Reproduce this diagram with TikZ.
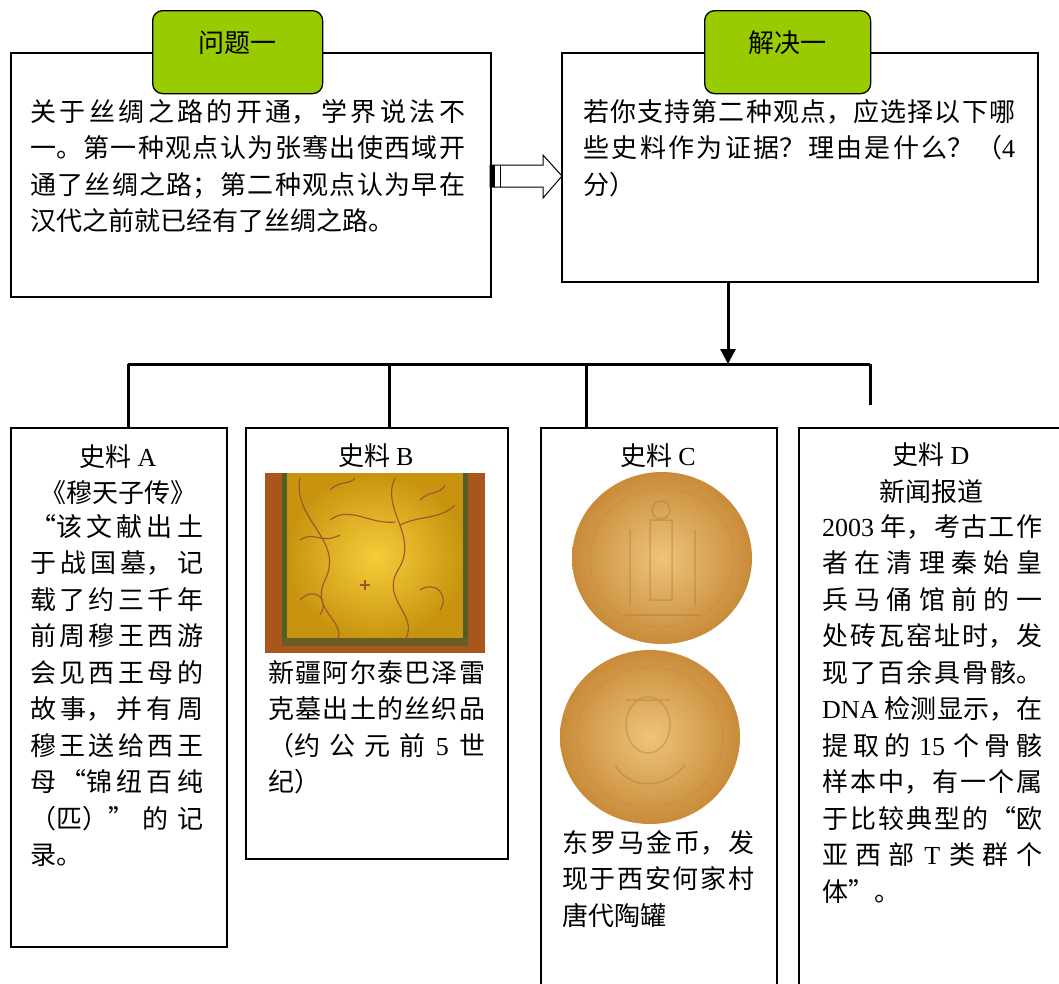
\documentclass[tikz,border=0pt]{standalone}
\usepackage{fontspec}
\setmainfont{Noto Sans CJK SC}
\newfontfamily\latin{Liberation Serif}
\usetikzlibrary{arrows.meta,calc}
\XeTeXlinebreaklocale "zh"
\XeTeXlinebreakskip=0pt plus 6pt minus 1pt
\newcommand\lat[1]{{\latin #1}}
\definecolor{tabgreen}{HTML}{99CC00}
\definecolor{silkgold}{HTML}{F5CD3A}
\definecolor{silkdark}{HTML}{C8940F}
\definecolor{silkedge}{HTML}{A9561C}
\definecolor{silkgreen}{HTML}{4F5F28}
\definecolor{vine}{HTML}{A0522D}
\definecolor{coinlight}{HTML}{EDC47A}
\definecolor{coindark}{HTML}{C98B3A}
\tikzset{
  box/.style={draw, line width=1.6pt, inner sep=0pt, anchor=north west},
  tab/.style={draw, line width=1.3pt, fill=tabgreen, rounded corners=10pt,
    inner sep=0pt, anchor=north west, minimum height=83pt},
  head/.style={inner sep=0pt, align=center, font=\fontsize{26}{36.5}\selectfont},
  body/.style={inner sep=0pt, anchor=north west, align=justify,
    font=\fontsize{26}{36.5}\selectfont},
  link/.style={line width=3pt},
  vine/.style={draw=vine, line width=1.1pt}
}
\begin{document}
\begin{tikzpicture}[x=1pt,y=-1pt]
  \useasboundingbox (0,0) rectangle (1059,983);

  % question and task
  \node[box, minimum width=480pt, minimum height=244pt] (q1) at (10,52) {};
  \node[box, minimum width=476pt, minimum height=229pt] (s1) at (561,52) {};
  \node[tab, minimum width=170pt, label={[head, yshift=9.5pt]center:问题一}] (tq) at (152,10) {};
  \node[tab, minimum width=166pt, label={[head, yshift=9.5pt]center:解决一}] (ts) at (704,10) {};
  \node[body, text width=435pt] (q1txt) at (30,99)
    {关于丝绸之路的开通，学界说法不\linebreak 一。第一种观点认为张骞出使西域开\linebreak
     通了丝绸之路；第二种观点认为早在\linebreak 汉代之前就已经有了丝绸之路。};
  \node[body, text width=432pt] (s1txt) at (583,99)
    {若你支持第二种观点，应选择以下哪\linebreak 些史料作为证据？理由是什么？（\lat{4}\linebreak 分）};

  % striped block arrow
  \draw[line width=1pt, fill=white] (490,165) -- (543,165) -- (543,155) -- (562,176)
    -- (543,198) -- (543,187) -- (490,187) -- cycle;
  \fill (490,165) rectangle (495,187);
  \draw[line width=1pt] (500,165) -- (500,187);

  % sources
  \node[box, minimum width=216pt, minimum height=519pt] (A) at (10,427) {};
  \node[box, minimum width=262pt, minimum height=431pt] (B) at (245,427) {};
  \node[box, minimum width=236pt, minimum height=600pt] (C) at (540,427) {};
  \node[box, minimum width=266pt, minimum height=600pt] (D) at (798,427) {};

  \node[head] (Ahd) at (118,474.5) {史料 \lat{A}\\《穆天子传》};
  \node[head] (Bhd) at (376,456) {史料 \lat{B}};
  \node[head] (Chd) at (658,456) {史料 \lat{C}};
  \node[head] (Dhd) at (931,473) {史料 \lat{D}\\新闻报道};

  \node[body, text width=173pt] (Atxt) at (30,514)
    {“该文献出土\linebreak 于战国墓，记\linebreak 载了约三千年\linebreak 前周穆王西游\linebreak
     会见西王母的\linebreak 故事，并有周\linebreak 穆王送给西王\linebreak 母“锦纽百纯\linebreak
     （匹）”的记\linebreak 录。};
  \node[body, text width=217pt] (Btxt) at (268,660)
    {新疆阿尔泰巴泽雷\linebreak 克墓出土的丝织品\linebreak （约公元前 \lat{5} 世\linebreak 纪）};
  \node[body, text width=192pt] (Ctxt) at (562,830)
    {东罗马金币，发\linebreak 现于西安何家村\linebreak 唐代陶罐};
  \node[body, text width=220pt] (Dtxt) at (822,514)
    {\lat{2003} 年，考古工作\linebreak 者在清理秦始皇\linebreak 兵马俑馆前的一\linebreak
     处砖瓦窑址时，发\linebreak 现了百余具骨骸。\linebreak \lat{DNA} 检测显示，在\linebreak
     提取的 \lat{15} 个骨骸\linebreak 样本中，有一个属\linebreak 于比较典型的“欧\linebreak
     亚西部 \lat{T} 类群个\linebreak 体”。};

  % silk picture
  \fill[silkedge] (265,473) rectangle (485,653);
  \shade[inner color=silkgold, outer color=silkdark] (286,473) rectangle (465,640);
  \fill[silkgreen] (282,473) rectangle (287,645);
  \fill[silkgreen] (463,473) rectangle (468,645);
  \fill[silkgreen!70!silkedge] (282,638) rectangle (468,646);
  \draw[vine] (300,478) .. controls (292,520) and (345,540) .. (325,580)
    .. controls (310,610) and (345,620) .. (338,640);
  \draw[vine] (395,478) .. controls (380,510) and (420,535) .. (398,570)
    .. controls (380,600) and (420,615) .. (405,640);
  \draw[vine] (330,520) .. controls (350,505) and (370,525) .. (395,522);
  \draw[vine] (400,525) .. controls (420,515) and (440,520) .. (455,505);
  \draw[vine] (300,540) .. controls (315,530) and (320,545) .. (340,535);
  \draw[vine] (420,500) .. controls (430,490) and (440,495) .. (445,485);
  \draw[vine] (330,490) .. controls (340,480) and (350,485) .. (355,478);
  \draw[vine] (300,600) .. controls (315,585) and (330,600) .. (320,615);
  \draw[vine] (420,590) .. controls (435,580) and (450,595) .. (440,610);
  \draw[vine] (360,585) -- (370,585) (365,580) -- (365,590);

  % coins
  \shade[inner color=coinlight, outer color=coindark] (662,558) ellipse (90 and 86);
  \draw[coindark!80!black, opacity=.35, line width=1pt, dotted] (662,558) ellipse (72 and 69);
  \draw[coindark!80!black, opacity=.35, line width=1.5pt]
    (650,520) rectangle (672,600) (661,510) circle (9) (630,530) -- (630,605)
    (695,530) -- (695,605) (625,615) -- (700,615);
  \shade[inner color=coinlight, outer color=coindark] (650,737) ellipse (90 and 87);
  \draw[coindark!80!black, opacity=.35, line width=1pt, dotted] (650,737) ellipse (73 and 70);
  \draw[coindark!80!black, opacity=.35, line width=1.5pt]
    (648,725) ellipse (22 and 28) (626,700) -- (670,700)
    (615,765) .. controls (630,790) and (665,790) .. (685,765);

  % connectors
  \coordinate (hub) at (728,364);
  \coordinate (ja) at (128,364);
  \coordinate (jb) at (389,364);
  \coordinate (jc) at (586,364);
  \coordinate (jd) at (870,364);
  \coordinate (jdend) at (870,405);
  \draw[link, -{Triangle[length=15pt,width=15pt]}] (hub |- s1.south) -- (hub);
  \draw[link] (ja) -- (jd);
  \draw[link] (ja) -- (ja |- A.north);
  \draw[link] (jb) -- (jb |- B.north);
  \draw[link] (jc) -- (jc |- C.north);
  \draw[link] (jd) -- (jdend);
\end{tikzpicture}
\end{document}
